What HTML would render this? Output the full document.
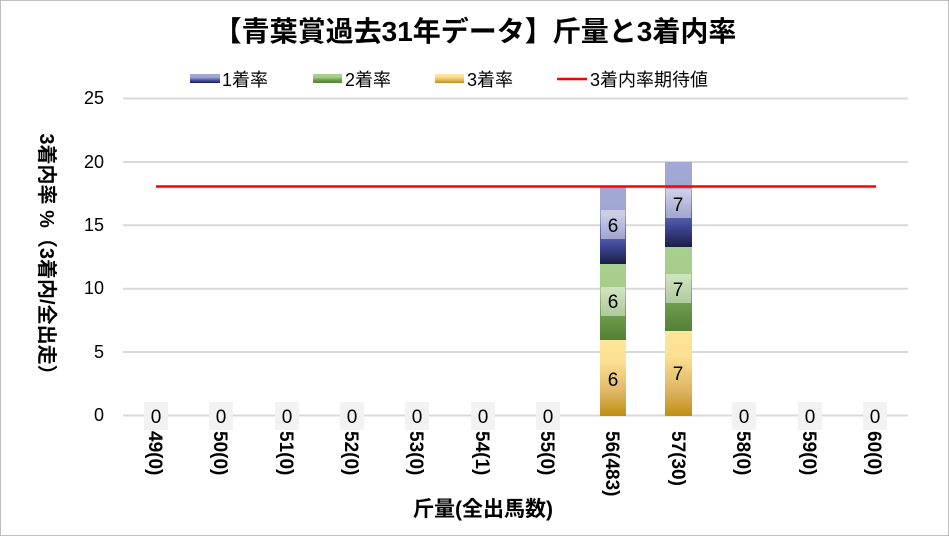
<!DOCTYPE html>
<html><head><meta charset="utf-8"><style>
html,body{margin:0;padding:0;background:#fff}
svg text{font-family:"Liberation Sans","Noto Sans CJK JP",sans-serif}
</style></head><body>
<svg width="949" height="536" viewBox="0 0 949 536" xmlns="http://www.w3.org/2000/svg">
<defs>
<linearGradient id="gb" x1="0" y1="0" x2="0" y2="1"><stop offset="0" stop-color="#A3A9D6"/><stop offset="0.35" stop-color="#A0A6D2"/><stop offset="0.75" stop-color="#3F4A9A"/><stop offset="1" stop-color="#1C1E45"/></linearGradient>
<linearGradient id="gg" x1="0" y1="0" x2="0" y2="1"><stop offset="0" stop-color="#A9D08E"/><stop offset="0.35" stop-color="#A5CC8A"/><stop offset="0.7" stop-color="#6B9A4B"/><stop offset="1" stop-color="#538135"/></linearGradient>
<linearGradient id="gy" x1="0" y1="0" x2="0" y2="1"><stop offset="0" stop-color="#FFE699"/><stop offset="0.3" stop-color="#FBDF92"/><stop offset="0.7" stop-color="#DDB562"/><stop offset="1" stop-color="#BF8F0F"/></linearGradient>
</defs>
<rect x="0.5" y="0.5" width="948" height="535" fill="#fff" stroke="#BFBFBF"/>
<text x="475" y="41" font-size="28" font-weight="bold" text-anchor="middle" fill="#000">【青葉賞過去31年データ】斤量と3着内率</text>
<!-- legend -->
<rect x="190" y="74" width="30" height="9" fill="url(#gb)"/><text x="222" y="86" font-size="18">1着率</text>
<rect x="313" y="74" width="29" height="9" fill="url(#gg)"/><text x="345" y="86" font-size="18">2着率</text>
<rect x="435" y="74" width="29" height="9" fill="url(#gy)"/><text x="467" y="86" font-size="18">3着率</text>
<line x1="557" y1="79" x2="587" y2="79" stroke="#F00" stroke-width="2.5"/><text x="590" y="86" font-size="18">3着内率期待値</text>
<!-- grid -->
<g stroke="#D9D9D9" stroke-width="2">
<line x1="123" y1="98.5" x2="908" y2="98.5"/><line x1="123" y1="162" x2="908" y2="162"/><line x1="123" y1="225.3" x2="908" y2="225.3"/><line x1="123" y1="288.7" x2="908" y2="288.7"/><line x1="123" y1="352" x2="908" y2="352"/><line x1="123" y1="415.5" x2="908" y2="415.5"/>
</g>
<g font-size="18" text-anchor="end">
<text x="104" y="104">25</text><text x="104" y="168">20</text><text x="104" y="231">15</text><text x="104" y="294">10</text><text x="104" y="358">5</text><text x="104" y="421">0</text>
</g>
<text transform="translate(40,259) rotate(90)" font-size="20" font-weight="bold" text-anchor="middle">3着内率 %（3着内/全出走）</text>
<!-- bars -->
<rect x="600" y="340" width="26" height="76" fill="url(#gy)"/>
<rect x="600" y="264" width="26" height="76" fill="url(#gg)"/>
<rect x="600" y="187" width="26" height="77" fill="url(#gb)"/>
<rect x="665" y="331" width="27" height="85" fill="url(#gy)"/>
<rect x="665" y="247" width="27" height="84" fill="url(#gg)"/>
<rect x="665" y="162" width="27" height="85" fill="url(#gb)"/>
<g fill="#fff" fill-opacity="0.45">
<rect x="601" y="210" width="24" height="29"/><rect x="601" y="287" width="24" height="29"/>
<rect x="666" y="189" width="25" height="29"/><rect x="666" y="274" width="25" height="29"/>
</g>
<g font-size="19" text-anchor="middle">
<text x="613" y="232">6</text><text x="613" y="308">6</text><text x="613" y="386">6</text>
<text x="678" y="211">7</text><text x="678" y="296">7</text><text x="678" y="380">7</text>
</g>
<line x1="156" y1="186.5" x2="876" y2="186.5" stroke="#F00" stroke-width="2.5"/>
<g>
<rect x="144" y="402" width="24" height="28" fill="#F2F2F2"/><rect x="209" y="402" width="24" height="28" fill="#F2F2F2"/><rect x="275" y="402" width="24" height="28" fill="#F2F2F2"/><rect x="340" y="402" width="24" height="28" fill="#F2F2F2"/><rect x="405" y="402" width="24" height="28" fill="#F2F2F2"/><rect x="471" y="402" width="24" height="28" fill="#F2F2F2"/><rect x="536" y="402" width="24" height="28" fill="#F2F2F2"/><rect x="732" y="402" width="24" height="28" fill="#F2F2F2"/><rect x="798" y="402" width="24" height="28" fill="#F2F2F2"/><rect x="863" y="402" width="24" height="28" fill="#F2F2F2"/>
</g>
<g font-size="19" text-anchor="middle">
<text x="156" y="423">0</text><text x="221" y="423">0</text><text x="287" y="423">0</text><text x="352" y="423">0</text><text x="417" y="423">0</text><text x="483" y="423">0</text><text x="548" y="423">0</text><text x="744" y="423">0</text><text x="810" y="423">0</text><text x="875" y="423">0</text>
</g>
<g font-size="19" font-weight="bold">
<text transform="translate(149,431) rotate(90)">49(0)</text>
<text transform="translate(214,431) rotate(90)">50(0)</text>
<text transform="translate(280,431) rotate(90)">51(0)</text>
<text transform="translate(345,431) rotate(90)">52(0)</text>
<text transform="translate(410,431) rotate(90)">53(0)</text>
<text transform="translate(476,431) rotate(90)">54(1)</text>
<text transform="translate(541,431) rotate(90)">55(0)</text>
<text transform="translate(606,431) rotate(90)">56(483)</text>
<text transform="translate(672,431) rotate(90)">57(30)</text>
<text transform="translate(737,431) rotate(90)">58(0)</text>
<text transform="translate(803,431) rotate(90)">59(0)</text>
<text transform="translate(868,431) rotate(90)">60(0)</text>
</g>
<text x="483" y="516" font-size="21" font-weight="bold" text-anchor="middle">斤量(全出馬数)</text>
</svg>
</body></html>
